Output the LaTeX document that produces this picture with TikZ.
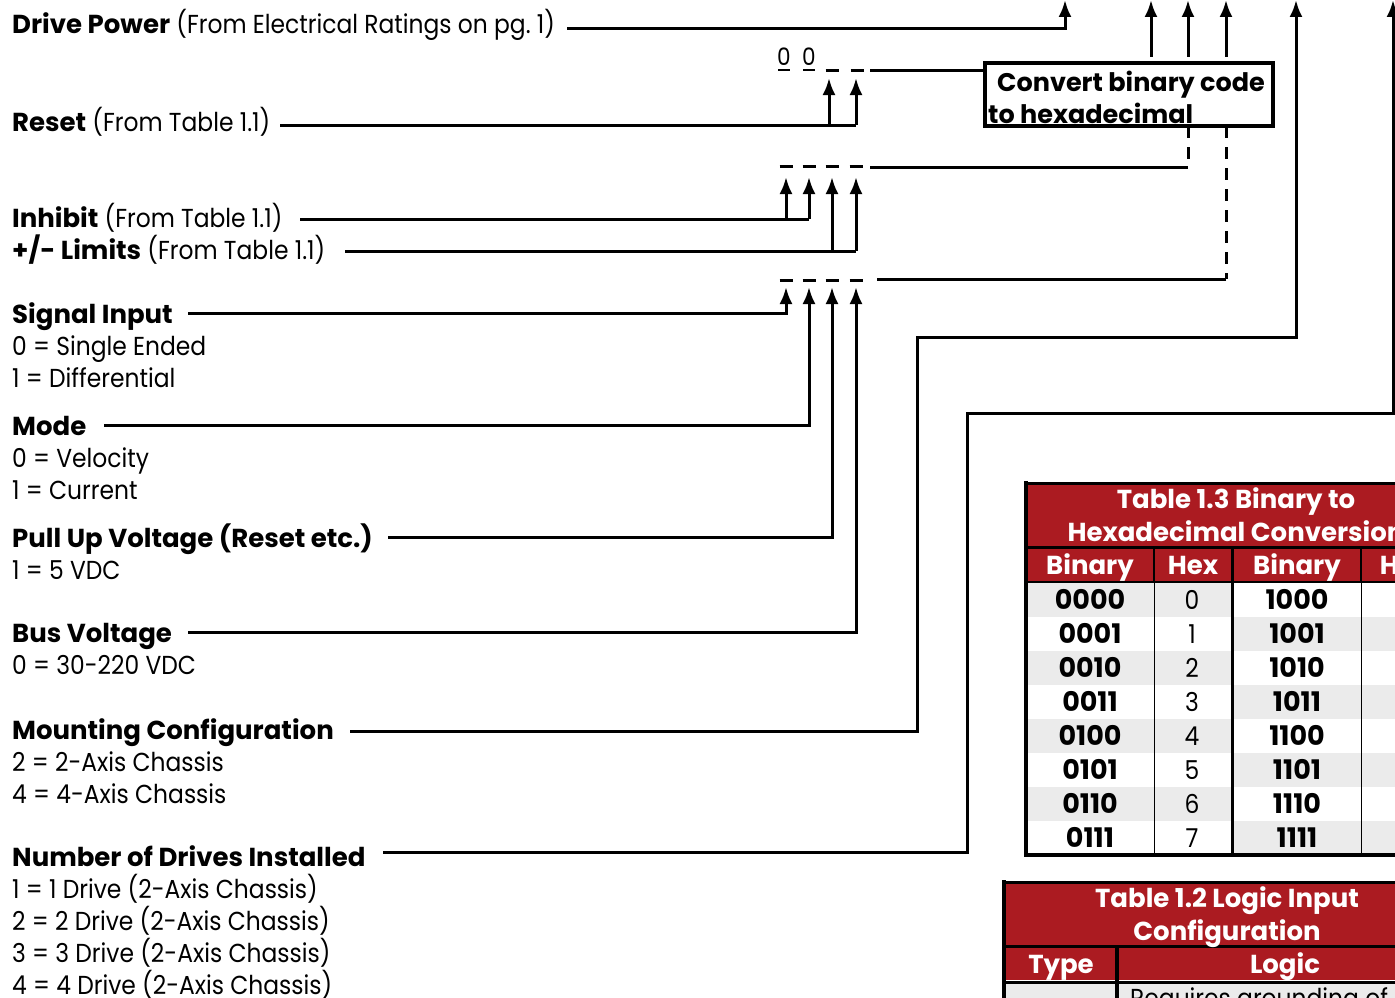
\documentclass[tikz,border=0pt]{standalone}
\usepackage{fontspec}
\setmainfont{Poppins}[UprightFeatures={FakeStretch=0.9}]
\usetikzlibrary{arrows.meta}
\definecolor{tred}{HTML}{AB1B21}
\definecolor{rowgray}{HTML}{EBEBEB}
\definecolor{thin}{HTML}{444444}
\begin{document}
\begin{tikzpicture}[x=1pt,y=-1pt,
  lbl/.style={anchor=base west,inner sep=0pt,font=\fontsize{26}{32}\selectfont},
  cell/.style={anchor=base,inner sep=0pt,font=\fontsize{26}{32}\selectfont},
  hdr/.style={anchor=base,inner sep=0pt,text=white,font=\bfseries\fontsize{26}{32}\selectfont},
  conn/.style={line width=3pt},
  arr/.style={conn,-{Latex[length=17pt,width=13pt]}},
  dashmark/.style={line width=3pt},
  dconn/.style={line width=3pt,dash pattern=on 12pt off 9pt}]
\useasboundingbox (0,0) rectangle (1395,998);
\clip (0,0) rectangle (1395,998);

% ---------- labels ----------
\node[lbl] (dp) at (12,34) {\textbf{Drive Power} (From Electrical Ratings on pg.~1)};
\node[lbl] (rs) at (12,131) {\textbf{Reset} (From Table 1.1)};
\node[lbl] (ih) at (12,227) {\textbf{Inhibit} (From Table 1.1)};
\node[lbl] (lm) at (12,259) {\textbf{+/- Limits} (From Table 1.1)};
\node[lbl] (si) at (12,323) {\textbf{Signal Input}};
\node[lbl] (si1) at (12,355) {0 = Single Ended};
\node[lbl] (si2) at (12,387) {1 = Differential};
\node[lbl] (md) at (12,435) {\textbf{Mode}};
\node[lbl] (md1) at (12,467) {0 = Velocity};
\node[lbl] (md2) at (12,499) {1 = Current};
\node[lbl] (pu) at (12,547) {\textbf{Pull Up Voltage (Reset etc.)}};
\node[lbl] (pu1) at (12,579) {1 = 5 VDC};
\node[lbl] (bv) at (12,642) {\textbf{Bus Voltage}};
\node[lbl] (bv1) at (12,674) {0 = 30-220 VDC};
\node[lbl] (mc) at (12,739) {\textbf{Mounting Configuration}};
\node[lbl] (mc1) at (12,771) {2 = 2-Axis Chassis};
\node[lbl] (mc2) at (12,803) {4 = 4-Axis Chassis};
\node[lbl] (nd) at (12,866) {\textbf{Number of Drives Installed}};
\node[lbl] (nd1) at (12,898) {1 = 1 Drive (2-Axis Chassis)};
\node[lbl] (nd2) at (12,930) {2 = 2 Drive (2-Axis Chassis)};
\node[lbl] (nd3) at (12,962) {3 = 3 Drive (2-Axis Chassis)};
\node[lbl] (nd4) at (12,994) {4 = 4 Drive (2-Axis Chassis)};

% ---------- convert box ----------
\draw[line width=4pt] (985,63) rectangle (1273,126);
\coordinate (boxW) at (985,71);
\node[anchor=base west,inner sep=0pt,font=\bfseries\fontsize{25.5}{32}\selectfont] (cv1) at (997,92) {Convert binary code};
\node[anchor=base west,inner sep=0pt,font=\bfseries\fontsize{25.5}{32}\selectfont] (cv2) at (988,123) {to hexadecimal};

% ---------- code digits and dashes ----------
\node[cell,font=\fontsize{24}{28}\selectfont] (z1) at (784,66) {0};
\node[cell,font=\fontsize{24}{28}\selectfont] (z2) at (809,66) {0};
\draw[line width=1.5pt] (778,70) -- (790,70) (803,70) -- (815,70);
\foreach \x in {832,857} \draw[dashmark] (\x-6.5,71) -- (\x+6.5,71);
\foreach \x in {786,809,832,856} {
  \draw[dashmark] (\x-6.5,166) -- (\x+6.5,166);
  \draw[dashmark] (\x-6.5,280) -- (\x+6.5,280);
}
\coordinate (g1) at (870,71);
\draw[conn] (g1) -- (boxW);
\coordinate (g2) at (870,167);
\coordinate (b2) at (1188,126);
\draw[dconn] (b2) -- (1188,167);
\draw[conn] (1188,167) -- (g2);
\coordinate (g3) at (877,279);
\coordinate (b3) at (1226,126);
\draw[dconn] (b3) -- (1226,279);
\draw[conn] (1226,279) -- (g3);

% ---------- outputs from box ----------
\foreach \x in {1151,1188,1226} \draw[arr] (\x,57) -- (\x,0);

% ---------- drive power ----------
\coordinate (dpS) at (567,29);
\coordinate (dpT) at (1065,0);
\draw[arr] (dpS) -| (dpT);

% ---------- reset ----------
\coordinate (rsS) at (280,125);
\draw[conn] (rsS) -- (856,125);
\draw[arr] (856,125) -- (856,78);
\draw[arr] (829,125) -- (829,78);

% ---------- inhibit / limits ----------
\coordinate (ihS) at (300,219);
\draw[conn] (ihS) -- (809,219);
\draw[arr] (809,219) -- (809,177);
\draw[arr] (786,219) -- (786,177);
\coordinate (lmS) at (345,251);
\draw[conn] (lmS) -- (856,251);
\draw[arr] (856,251) -- (856,177);
\draw[arr] (832,251) -- (832,177);

% ---------- bottom code group ----------
\coordinate (siS) at (188,313);
\draw[arr] (siS) -| (786,287);
\coordinate (mdS) at (104,425);
\draw[arr] (mdS) -| (809,287);
\coordinate (puS) at (388,537);
\draw[arr] (puS) -| (832,287);
\coordinate (bvS) at (188,632);
\draw[arr] (bvS) -| (856,287);

% ---------- mounting / number ----------
\coordinate (mcS) at (350,731);
\draw[arr] (mcS) -| (917,337) -| (1296,0);
\coordinate (ndS) at (383,852);
\draw[arr] (ndS) -| (967,413) -| (1393,0);

% ---------- Table 1.3 ----------
\fill[tred] (1027,484) rectangle (1500,546);
\fill[tred] (1027,548) rectangle (1500,581);
\foreach \i in {0,2,4,6} \fill[rowgray] (1027,583+34*\i) rectangle (1232,617+34*\i);
\foreach \i in {1,3,5,7} \fill[rowgray] (1232,583+34*\i) rectangle (1500,617+34*\i);
\draw[line width=3pt] (1024,483) -- (1500,483);
\draw[line width=3pt] (1024,547) -- (1500,547);
\draw[line width=2.5pt] (1024,582) -- (1500,582);
\draw[line width=4pt] (1024,855) -- (1500,855);
\draw[line width=4pt] (1026,481) -- (1026,857);
\draw[line width=2.5pt] (1154,547) -- (1154,582);
\draw[line width=2pt,thin] (1154,582) -- (1154,855);
\draw[line width=3pt] (1232,547) -- (1232,855);
\draw[line width=2.5pt] (1361,547) -- (1361,582);
\draw[line width=2pt,thin] (1361,582) -- (1361,855);
\node[hdr] (t3a) at (1236,508) {Table 1.3 Binary to};
\node[hdr] (t3b) at (1236,541) {Hexadecimal Conversion};
\node[hdr] (h1) at (1090,574) {Binary};
\node[hdr] (h2) at (1193,574) {Hex};
\node[hdr] (h3) at (1297,574) {Binary};
\node[hdr] (h4) at (1405,574) {Hex};
\foreach \b/\h/\c/\d [count=\i from 0] in {0000/0/1000/8,0001/1/1001/9,0010/2/1010/A,0011/3/1011/B,0100/4/1100/C,0101/5/1101/D,0110/6/1110/E,0111/7/1111/F} {
  \node[cell,font=\bfseries\fontsize{27}{32}\selectfont] at (1090,609+34*\i) {\b};
  \node[cell] at (1192,609+34*\i) {\h};
  \node[cell,font=\bfseries\fontsize{27}{32}\selectfont] at (1297,609+34*\i) {\c};
  \node[cell] at (1405,609+34*\i) {\d};
}

% ---------- Table 1.2 ----------
\fill[tred] (1005,883) rectangle (1500,945);
\fill[tred] (1005,948) rectangle (1500,980);
\fill[rowgray] (1005,984) rectangle (1500,1000);
\draw[line width=3pt] (1002,882) -- (1500,882);
\draw[line width=3pt] (1002,946) -- (1500,946);
\draw[line width=3pt] (1002,982) -- (1500,982);
\draw[line width=4pt] (1004,880) -- (1004,1000);
\draw[line width=4pt] (1117,946) -- (1117,1000);
\node[hdr] (t2a) at (1227,907) {Table 1.2 Logic Input};
\node[hdr] (t2b) at (1227,940) {Configuration};
\node[hdr] (ty) at (1061,973) {Type};
\node[hdr] (lg) at (1285,973) {Logic};
\node[anchor=base west,inner sep=0pt,font=\fontsize{26}{32}\selectfont] (rq) at (1130,1007) {Requires grounding of inputs};
\end{tikzpicture}
\end{document}
